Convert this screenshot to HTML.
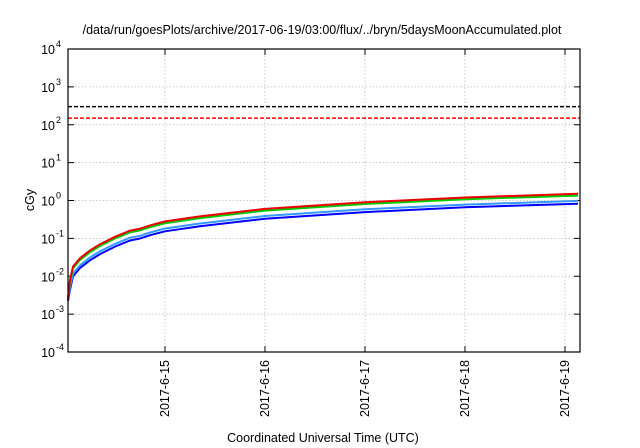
<!DOCTYPE html>
<html><head><meta charset="utf-8"><style>
body{margin:0;background:#fff;}
svg{display:block;font-family:"Liberation Sans",sans-serif;}
</style></head><body>
<svg id="s" width="640" height="448" xmlns="http://www.w3.org/2000/svg">
<rect width="640" height="448" fill="#fff"/>
<text x="322" y="34" font-size="12.5" text-anchor="middle">/data/run/goesPlots/archive/2017-06-19/03:00/flux/../bryn/5daysMoonAccumulated.plot</text>
<text x="323" y="442" font-size="12.5" text-anchor="middle">Coordinated Universal Time (UTC)</text>
<text x="0" y="0" font-size="12.5" text-anchor="middle" transform="translate(34,200) rotate(-90)">cGy</text>
<g id="g"></g>
</svg>
<script>
var L=68,R=580,T=49,B=352,D=(B-T)/8;
function Y(v){return B-(Math.log10(v)+4)*D;}
var h='';
for(var e=-4;e<=4;e++){var y=Y(Math.pow(10,e));
 if(e>-4&&e<4)h+='<line x1="'+L+'" x2="'+R+'" y1="'+y+'" y2="'+y+'" stroke="#bbb" stroke-width="0.8" stroke-dasharray="1.5,2"/>';
 h+='<line x1="'+L+'" x2="'+(L+6)+'" y1="'+y+'" y2="'+y+'" stroke="#000"/><line x1="'+(R-6)+'" x2="'+R+'" y1="'+y+'" y2="'+y+'" stroke="#000"/>';
 h+='<text x="55" y="'+(y+5)+'" font-size="12.5" text-anchor="end">10</text><text x="56" y="'+(y-2)+'" font-size="9">'+(e<0?'-'+(-e):e)+'</text>';
}
var days=['2017-6-15','2017-6-16','2017-6-17','2017-6-18','2017-6-19'];
for(var i=0;i<5;i++){var x=165+100*i;
 h+='<line x1="'+x+'" x2="'+x+'" y1="'+T+'" y2="'+B+'" stroke="#bbb" stroke-width="0.8" stroke-dasharray="1.5,2"/>';
 h+='<line x1="'+x+'" x2="'+x+'" y1="'+B+'" y2="'+(B-6)+'" stroke="#000"/><line x1="'+x+'" x2="'+x+'" y1="'+T+'" y2="'+(T+6)+'" stroke="#000"/>';
 h+='<text font-size="12.5" text-anchor="end" transform="translate('+(x+4)+',360) rotate(-90)">'+days[i]+'</text>';
}
h+='<line x1="'+L+'" x2="'+R+'" y1="'+Y(300)+'" y2="'+Y(300)+'" stroke="#000" stroke-width="1.5" stroke-dasharray="4,2"/>';
h+='<line x1="'+L+'" x2="'+R+'" y1="'+Y(150)+'" y2="'+Y(150)+'" stroke="#f00" stroke-width="1.5" stroke-dasharray="4,2"/>';
var P=[[68,2.5e-3],[70,8e-3],[73,1.8e-2],[80,3e-2],[90,4.8e-2],[100,7e-2],[115,1.1e-1],[130,1.6e-1],[140,1.8e-1],[150,2.2e-1],[165,2.8e-1],[200,3.8e-1],[265,0.6],[365,0.9],[465,1.2],[578,1.5]];
var S=[['#00f',0.55,0.9],['#39f',0.65,1],['#0c0',0.9,1],['#e00',1,1]];
S.forEach(function(s){var d='';P.forEach(function(p,k){var v=p[1]*(k==0?s[2]:s[1]);d+=(k?'L':'M')+p[0]+','+Y(v).toFixed(1);});
 h+='<path d="'+d+'" fill="none" stroke="'+s[0]+'" stroke-width="2"/>';});
h+='<rect x="'+L+'" y="'+T+'" width="'+(R-L)+'" height="'+(B-T)+'" fill="none" stroke="#000" stroke-width="1.2"/>';
document.getElementById('g').innerHTML=h;
</script>
</body></html>
